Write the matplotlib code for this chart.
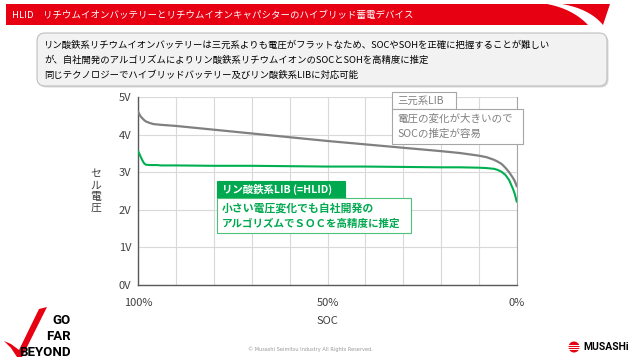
import numpy as np
import matplotlib.pyplot as plt
from matplotlib.patches import Polygon, Rectangle, FancyBboxPatch, Circle

plt.rcParams['font.family'] = ['Noto Sans CJK JP', 'DejaVu Sans']

# data
soc = [100, 99.5, 99, 98.5, 98, 97, 96, 95, 94, 90, 80, 70, 60, 50, 40, 30,
       20, 15, 10, 8, 6, 5, 4, 3, 2, 1, 0.5, 0]
nmc_volt = [4.60, 4.50, 4.44, 4.39, 4.35, 4.31, 4.28, 4.27, 4.26, 4.23, 4.13,
            4.03, 3.93, 3.83, 3.74, 3.65, 3.56, 3.51, 3.44, 3.40, 3.33, 3.28,
            3.22, 3.12, 3.00, 2.85, 2.76, 2.63]
lfp_volt = [3.55, 3.44, 3.33, 3.24, 3.20, 3.19, 3.19, 3.19, 3.18, 3.18, 3.17,
            3.17, 3.16, 3.15, 3.15, 3.14, 3.13, 3.13, 3.12, 3.11, 3.09, 3.06,
            3.01, 2.93, 2.79, 2.56, 2.42, 2.22]
y_ticks = [0, 1, 2, 3, 4, 5]
y_labels = ['0V', '1V', '2V', '3V', '4V', '5V']
x_ticks = [100, 50, 0]
x_labels = ['100%', '50%', '0%']

title = 'HLID\u3000リチウムイオンバッテリーとリチウムイオンキャパシターのハイブリッド蓄電デバイス'
notes = ['リン酸鉄系リチウムイオンバッテリーは三元系よりも電圧がフラットなため、SOCやSOHを正確に把握することが難しい',
         'が、自社開発のアルゴリズムによりリン酸鉄系リチウムイオンのSOCとSOHを高精度に推定',
         '同じテクノロジーでハイブリッドバッテリー及びリン酸鉄系LIBに対応可能']

RED = '#e60012'
GREEN = '#00a84f'
GREY = '#808080'

fig = plt.figure(figsize=(6.4, 3.6), dpi=100)

# chart
ax = fig.add_axes([138.3 / 640, 1 - 285 / 360, (516.7 - 138.3) / 640, (285 - 97) / 360])
ax.plot(soc, nmc_volt, color=GREY, lw=1.6, zorder=3)
ax.plot(soc, lfp_volt, color='#00b050', lw=1.5, zorder=3)
ax.set_xlim(100, 0)
ax.set_ylim(0, 5)
ax.set_xticks(np.arange(0, 101, 10), minor=True)
ax.set_xticks(x_ticks)
ax.set_xticklabels(x_labels, fontsize=8, color='#404040')
ax.set_yticks(y_ticks)
ax.set_yticklabels(y_labels, fontsize=8, color='#404040')
ax.tick_params(length=0, which='both')
ax.tick_params(axis='x', pad=9)
ax.tick_params(axis='y', pad=5)
ax.grid(True, which='both', color='#d9d9d9', lw=0.8)
ax.set_axisbelow(True)
for s in ['left', 'bottom']:
    ax.spines[s].set_color('#595959')
    ax.spines[s].set_linewidth(1.0)
ax.spines['right'].set_color('#a6a6a6')
ax.spines['right'].set_linewidth(0.8)
ax.spines['top'].set_visible(False)
ax.set_xlabel('SOC', fontsize=8, color='#404040', labelpad=6)

# overlay in pixel coordinates for slide elements
ov = fig.add_axes([0, 0, 1, 1], zorder=5)
ov.set_xlim(0, 640)
ov.set_ylim(360, 0)
ov.axis('off')
ov.patch.set_alpha(0)

ov.text(96, 191, 'セ\nル\n電\n圧', fontsize=7.8, color='#404040', ha='center', va='center',
        linespacing=1.15)

# title banner
ov.add_patch(Polygon([(6, 4), (610, 4), (603, 25), (6, 25)], closed=True, color=RED, lw=0))
t = np.linspace(0, 1, 20)
def qbez(p0, c, p2):
    return [((1 - s) ** 2 * p0[0] + 2 * (1 - s) * s * c[0] + s ** 2 * p2[0],
             (1 - s) ** 2 * p0[1] + 2 * (1 - s) * s * c[1] + s ** 2 * p2[1]) for s in t]
left_edge = qbez((547, 4), (573, 9), (588, 25))
right_edge = qbez((562, 4), (590, 9), (603, 25))
ov.add_patch(Polygon(left_edge + right_edge[::-1], closed=True, color='white', lw=0))
ov.text(12, 15, title, fontsize=6.8, color='white', va='center', ha='left')

# note box
ov.add_patch(FancyBboxPatch((38.5, 34.5), 570, 53, boxstyle='round,pad=0,rounding_size=8',
                            fc='#d8d8d8', ec='none'))
ov.add_patch(FancyBboxPatch((37, 33), 570, 53, boxstyle='round,pad=0,rounding_size=8',
                            fc='#f2f2f2', ec='#bfbfbf', lw=0.8))
for i, line in enumerate(notes):
    ov.text(44, 45 + i * 15, line, fontsize=6.75, color='black', va='center', ha='left')

# NMC annotation
ov.add_patch(Rectangle((392, 92), 64, 17, fc='white', ec='#a6a6a6', lw=0.8))
ov.add_patch(Rectangle((392, 109), 131, 35, fc='white', ec='#a6a6a6', lw=0.8))
ov.text(397, 100.5, '三元系LIB', fontsize=7.5, color=GREY, va='center')
ov.text(397, 118.5, '電圧の変化が大きいので', fontsize=7.6, color=GREY, va='center')
ov.text(397, 134, 'SOCの推定が容易', fontsize=7.6, color=GREY, va='center')

# LFP annotation
ov.add_patch(Rectangle((217, 181), 128, 17, fc=GREEN, ec=GREEN, lw=0.8))
ov.add_patch(Rectangle((217, 198), 194, 35, fc='white', ec='#4cc17a', lw=0.8))
ov.text(222, 189.5, 'リン酸鉄系LIB (=HLID)', fontsize=7.5, color='white', va='center',
        fontweight='bold')
ov.text(222, 208, '小さい電圧変化でも自社開発の', fontsize=7.8, color=GREEN, va='center',
        fontweight='bold')
ov.text(222, 223.5, 'アルゴリズムでＳＯＣを高精度に推定', fontsize=7.6, color=GREEN,
        va='center', fontweight='bold')

# footer: GO FAR BEYOND logo
ov.add_patch(Polygon([(4, 341), (11, 344), (19, 350), (39, 309), (47, 307), (22, 357),
                      (17, 357), (11, 348)], closed=True, color=RED, lw=0))
for txt, yy in [('GO', 320), ('FAR', 336), ('BEYOND', 352)]:
    ov.text(71, yy, txt, fontsize=9.5, fontweight='bold', family='Roboto', ha='right',
            va='center', color='black')

ov.text(310, 349, '\u00a9 Musashi Seimitsu Industry All Rights Reserved.', fontsize=3.6,
        color='#9a9a9a', ha='center', va='center', family='DejaVu Sans')

# MUSASHI logo
ov.add_patch(Circle((574, 347), 5.5, color=RED, lw=0))
for dy in (-2.2, 0, 2.2):
    ov.plot([566, 582], [347 + dy, 347 + dy], color='white', lw=0.7)
ov.text(583, 347.5, 'MUSASHi', fontsize=7.5, fontweight='bold', family='Roboto',
        ha='left', va='center', color='black')

fig.savefig('out.png', dpi=100)
